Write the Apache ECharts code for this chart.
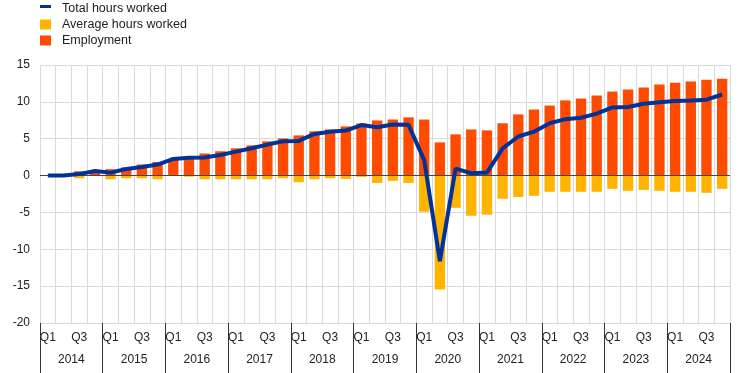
<!DOCTYPE html>
<html>
<head>
<meta charset="utf-8">
<script src="https://cdn.jsdelivr.net/npm/echarts@6/dist/echarts.min.js"></script>
<style>
html,body{margin:0;padding:0;background:#fff;}
#chart{width:745px;height:373px;}
</style>
</head>
<body>
<div id="chart"></div>
<script>
var years = ['2014','2015','2016','2017','2018','2019','2020','2021','2022','2023','2024'];
var quarterNames = ['Q1','Q2','Q3','Q4'];
var yTicks = {min: -20, max: 15, interval: 5};

var employment = [0, 0, 0.59, 0.6, 0.86, 1.1, 1.5, 1.85, 2.2, 2.5, 3.0, 3.3, 3.7, 4.1, 4.64, 5.04, 5.45, 6.0, 6.26, 6.67, 7.07, 7.48, 7.6, 7.9, 7.6, 4.5, 5.59, 6.26, 6.13, 7.1, 8.3, 8.96, 9.5, 10.2, 10.45, 10.86, 11.4, 11.67, 11.94, 12.34, 12.6, 12.75, 13.0, 13.15];
var avgHours = [0, 0, -0.36, 0, -0.5, -0.36, -0.36, -0.5, 0, -0.15, -0.5, -0.5, -0.5, -0.5, -0.5, -0.36, -0.9, -0.5, -0.36, -0.45, -0.18, -1.0, -0.72, -1.0, -4.9, -15.45, -4.37, -5.45, -5.3, -3.15, -2.9, -2.75, -2.2, -2.2, -2.2, -2.2, -1.8, -2.07, -1.94, -2.07, -2.2, -2.2, -2.34, -1.8];
var totalHours = [0, 0, 0.2, 0.63, 0.4, 0.9, 1.15, 1.5, 2.25, 2.43, 2.45, 2.8, 3.25, 3.7, 4.2, 4.65, 4.7, 5.65, 5.95, 6.1, 6.85, 6.55, 6.94, 6.88, 2.1, -11.6, 0.95, 0.32, 0.4, 3.7, 5.3, 5.95, 7.1, 7.65, 7.85, 8.4, 9.25, 9.3, 9.75, 9.95, 10.12, 10.18, 10.3, 11.0];

var quarters = [];
years.forEach(function(y){ quarterNames.forEach(function(q){ quarters.push(q + ' ' + y); }); });

var font = "'Liberation Sans', Arial, sans-serif";
var textColor = '#222';
var gridColor = '#d9d9d9';
var lineIcon = 'path://M0,0h0.01v0.01h-0.01z M0,1.5h11v3h-11z M10.99,9.99h0.01v0.01h-0.01z';

var chart = echarts.init(document.getElementById('chart'), null, {renderer: 'canvas'});
chart.setOption({
  animation: false,
  textStyle: {fontFamily: font},
  legend: {
    orient: 'vertical',
    left: 40,
    top: 2,
    padding: 0,
    itemWidth: 11,
    itemHeight: 10,
    itemGap: 3,
    textStyle: {fontSize: 12.5, color: textColor, fontFamily: font, padding: [0, 0, 0, 6]},
    data: [
      {name: 'Total hours worked', icon: lineIcon, itemStyle: {color: '#003299'}},
      {name: 'Average hours worked', icon: 'rect'},
      {name: 'Employment', icon: 'rect'}
    ]
  },
  grid: {left: 40, right: 15, top: 65, bottom: 50, containLabel: false},
  xAxis: [{
    type: 'category',
    data: quarters,
    boundaryGap: true,
    position: 'bottom',
    axisLine: {show: false},
    axisTick: {show: false},
    axisLabel: {
      interval: 0,
      margin: 9,
      fontSize: 12,
      color: textColor,
      fontFamily: font,
      formatter: function(v){ var q = v.split(' ')[0]; return (q === 'Q1' || q === 'Q3') ? q : ''; }
    },
    splitLine: {show: true, interval: 0, lineStyle: {color: gridColor, width: 1}}
  }, {
    type: 'category',
    data: years,
    boundaryGap: true,
    position: 'bottom',
    axisLine: {show: false},
    axisTick: {show: true, interval: 0, length: 50, lineStyle: {color: '#333', width: 1}},
    axisLabel: {interval: 0, margin: 31, fontSize: 12, color: textColor, fontFamily: font},
    splitLine: {show: false}
  }],
  yAxis: {
    type: 'value',
    min: yTicks.min,
    max: yTicks.max,
    interval: yTicks.interval,
    axisLine: {show: false},
    axisTick: {show: false},
    axisLabel: {margin: 10, fontSize: 12, color: textColor, fontFamily: font},
    splitLine: {show: true, lineStyle: {color: gridColor, width: 1}}
  },
  series: [{
    name: 'Employment',
    type: 'bar',
    stack: 'total',
    xAxisIndex: 0,
    data: employment,
    barWidth: '66%',
    itemStyle: {color: '#ff4b00'},
    z: 2
  }, {
    name: 'Average hours worked',
    type: 'bar',
    stack: 'total',
    xAxisIndex: 0,
    data: avgHours,
    barWidth: '66%',
    itemStyle: {color: '#ffb400'},
    z: 2,
    markLine: {
      silent: true,
      symbol: ['none', 'none'],
      label: {show: false},
      lineStyle: {color: '#444', width: 1, type: 'solid'},
      data: [{yAxis: 0}]
    }
  }, {
    name: 'Total hours worked',
    type: 'line',
    xAxisIndex: 0,
    data: totalHours,
    symbol: 'none',
    showSymbol: false,
    lineStyle: {color: '#003299', width: 4},
    itemStyle: {color: '#003299'},
    z: 5
  }]
});
</script>
</body>
</html>
